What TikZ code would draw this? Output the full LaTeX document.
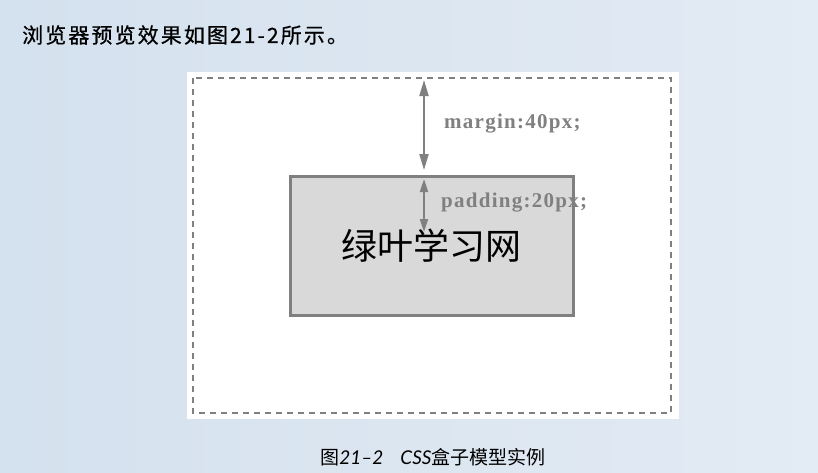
\documentclass[tikz,border=0pt]{standalone}
\usepackage{fontspec}
\setmainfont{Liberation Serif}
\newfontfamily\cjk{Noto Sans CJK SC}
\newfontfamily\cjkintro[FakeBold=0.6, LetterSpace=10]{Noto Sans CJK SC}
\newfontfamily\labelfont[LetterSpace=6]{Liberation Serif}
\newfontfamily\capfont{Lato}
\usetikzlibrary{arrows.meta}
\definecolor{boxgray}{RGB}{128,128,128}
\definecolor{boxfill}{RGB}{217,217,217}
\definecolor{bgleft}{RGB}{212,225,238}
\definecolor{bgright}{RGB}{227,235,244}
\tikzstyle{panel}=[fill=white, draw=none]
\tikzstyle{dashframe}=[draw=boxgray, line width=1.4pt, dash pattern=on 6pt off 5pt]
\tikzstyle{contentbox}=[draw=boxgray, fill=boxfill, line width=3pt, inner sep=0,
                        minimum width=283pt, minimum height=139pt]
\tikzstyle{spacearrow}=[draw=boxgray, fill=boxgray, line width=2pt]
\tikzstyle{boxlabel}=[text=boxgray, inner sep=0, anchor=west,
                      font=\labelfont\fontsize{21}{24}\selectfont\bfseries]
\begin{document}
\begin{tikzpicture}[x=1pt, y=-1pt]
        % background and white page
        \shade[left color=bgleft, right color=bgright] (0,0) rectangle (818,472);
        \useasboundingbox (0,0) rectangle (818,472);
        \path[panel] (187,72) rectangle (679,419);
        \draw[dashframe] (193,78) rectangle (671,413);
        % the box
        \node[contentbox, font=\cjk\fontsize{36}{40}\selectfont] (box) at (431.5,245.5) {绿叶学习网};
        \coordinate (mtop) at (424,80);
        \coordinate (mbot) at (424,170);
        \coordinate (ptop) at (424,179);
        \coordinate (pbot) at (424,232);
        \draw[spacearrow, {Triangle[width=9pt,length=16pt]}-{Triangle[width=9pt,length=16pt]}] (mtop) -- (mbot);
        \draw[spacearrow, {Triangle[width=8pt,length=13pt]}-{Triangle[width=8pt,length=13pt]}] (ptop) -- (pbot);
        \node[boxlabel] (mlabel) at (444,124) {margin:40px;};
        \node[boxlabel] (plabel) at (441,203) {padding:20px;};
        % texts above and below
        \node[anchor=west, inner sep=0, font=\cjkintro\fontsize{21}{24}\selectfont] (intro) at (22,35) {浏览器预览效果如图21-2所示。};
        \node[inner sep=0, font=\fontsize{19}{22}\selectfont] (caption) at (433,457)
            {{\cjk 图}{\capfont\itshape 21–2}\hspace{17pt}{\capfont\itshape CSS}{\cjk 盒子模型实例}};
    \end{tikzpicture}
\end{document}
